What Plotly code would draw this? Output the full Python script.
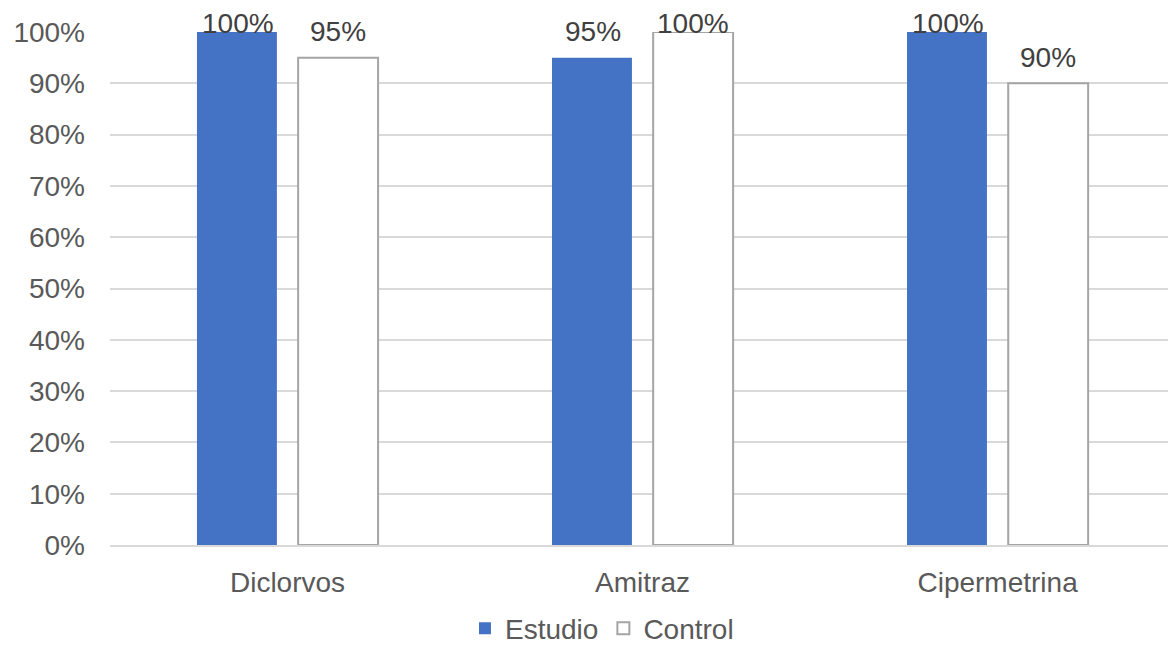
import plotly.graph_objects as go

categories = ["Diclorvos", "Amitraz", "Cipermetrina"]
estudio = [100, 95, 100]
control = [95, 100, 90]
tick_vals = [0, 10, 20, 30, 40, 50, 60, 70, 80, 90, 100]
tick_text = [f"{v}%" for v in tick_vals]

FONT = "Liberation Sans, Arial, sans-serif"
TXT = "#595959"
FS = 28

fig = go.Figure()
fig.add_trace(go.Bar(name="Estudio", x=categories, y=estudio,
                     marker=dict(color="#4472C4", line=dict(width=0))))
fig.add_trace(go.Bar(name="Control", x=categories, y=control,
                     marker=dict(color="#FFFFFF", line=dict(color="#A5A5A5", width=2))))

# data labels (Excel clamps labels that would overflow the plot top)
for vals, xs in [(estudio, -50), (control, 50)]:
    for j, v in enumerate(vals):
        fig.add_annotation(x=categories[j], y=min(v, 96.6), xref="x", yref="y",
                           text=f"{v}%", showarrow=False, xshift=xs, yshift=26,
                           font=dict(family=FONT, size=FS, color="#404040"),
                           xanchor="center", yanchor="middle")

fig.update_layout(
    width=1168, height=645,
    barmode="group", bargap=0.43, bargroupgap=0.21,
    plot_bgcolor="white", paper_bgcolor="white",
    margin=dict(l=110, r=0, t=32, b=100, autoexpand=False),
    font=dict(family=FONT, size=FS, color=TXT),
    legend=dict(orientation="h", x=0.465, xanchor="center", y=-0.114, yanchor="top",
                font=dict(family=FONT, size=FS, color=TXT), traceorder="normal",
                itemwidth=30),
    showlegend=True,
)
fig.update_xaxes(type="category", showgrid=False, showline=True, linecolor="#D9D9D9",
                 linewidth=2, ticks="", ticklabelstandoff=11,
                 tickfont=dict(family=FONT, size=FS, color=TXT), range=[-0.5, 2.48])
fig.update_yaxes(range=[0, 100], tickvals=tick_vals, ticktext=tick_text,
                 showgrid=True, gridcolor="#D9D9D9", gridwidth=2, zeroline=False,
                 ticks="", ticklabelstandoff=24,
                 tickfont=dict(family=FONT, size=FS, color=TXT))

fig.write_html("out.html")
